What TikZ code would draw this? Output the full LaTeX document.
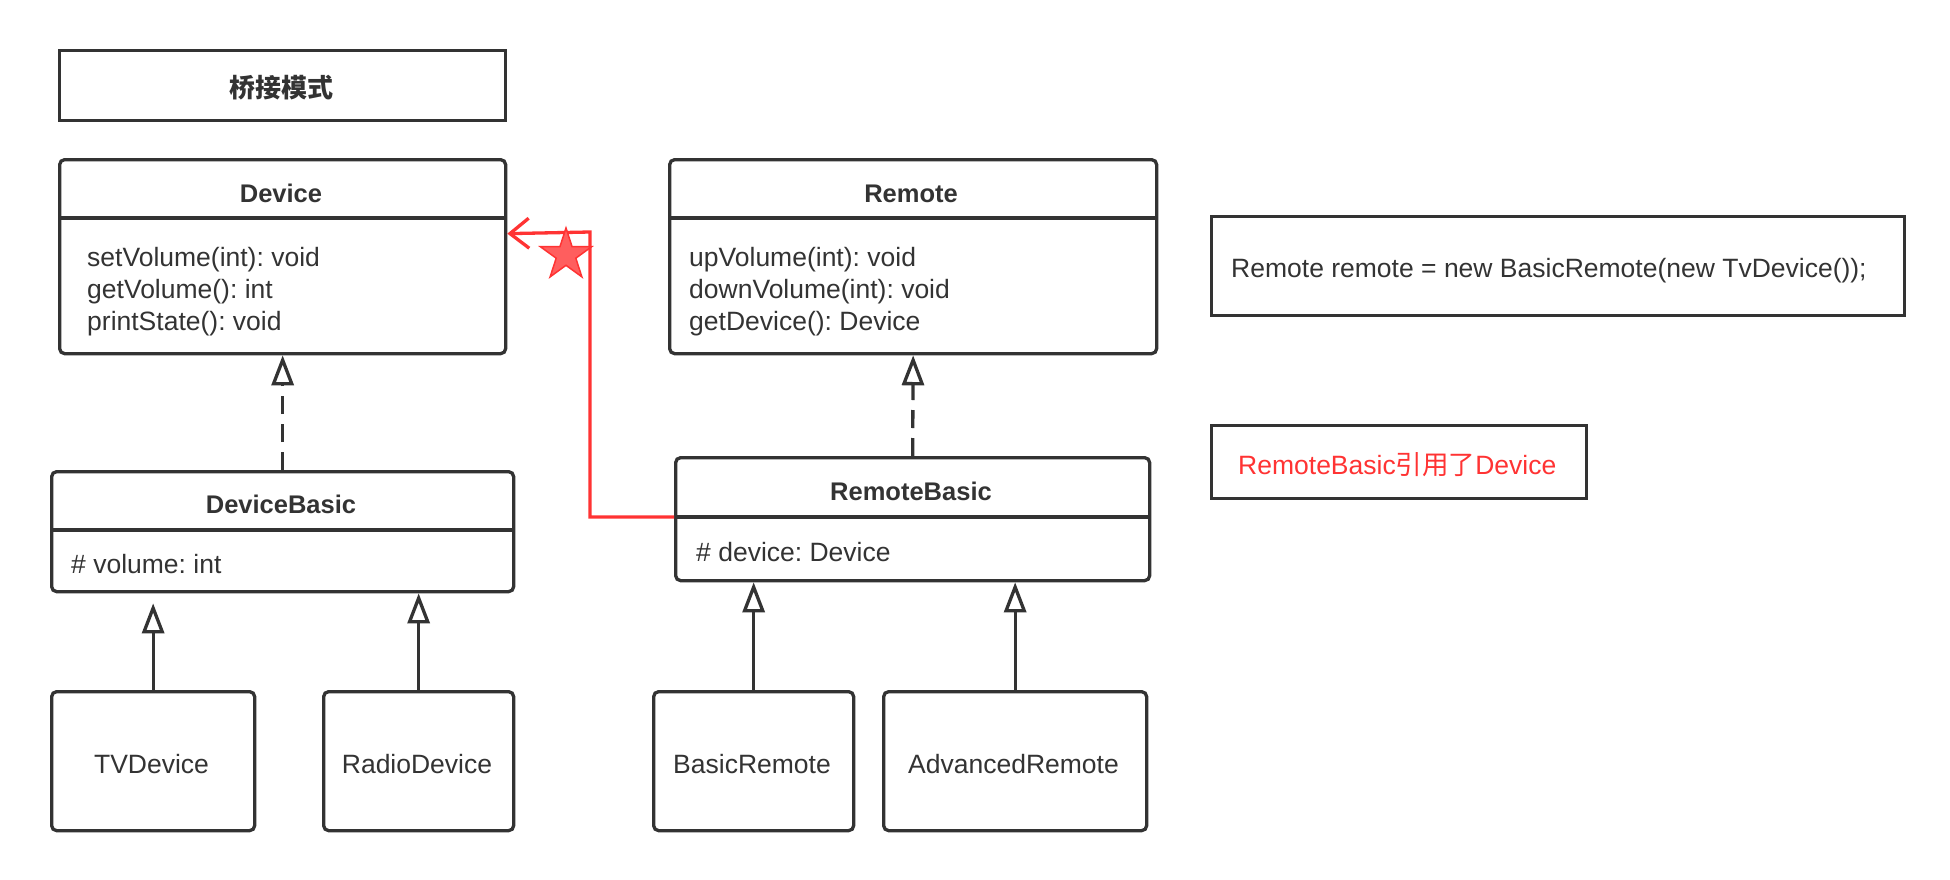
\documentclass[tikz,border=0pt]{standalone}
\usepackage{fontspec}
\setmainfont{Liberation Sans}
\newfontfamily\cjkfont{Noto Sans CJK SC}
\usetikzlibrary{arrows.meta,shapes.geometric}
\definecolor{dk}{HTML}{333333}
\definecolor{rd}{HTML}{FF3333}
\definecolor{rdfill}{HTML}{FF5E5E}
\frenchspacing
\begin{document}
\frenchspacing
\begin{tikzpicture}[x=1pt,y=-1pt,
  box/.style={draw=dk, line width=3.3pt, inner sep=0pt, anchor=north west},
  cls/.style={box, rounded corners=5pt},
  ttl/.style={font=\fontsize{25.5}{30}\selectfont\bfseries, text=dk, anchor=base, inner sep=0pt},
  txt/.style={font=\fontsize{26.5}{32}\selectfont, text=dk, anchor=base west, inner sep=0pt},
  ctxt/.style={txt, anchor=base},
  sep/.style={draw=dk, line width=3.3pt},
  gen/.style={draw=dk, line width=3.3pt, -{Triangle[open, fill=white, length=30pt, width=22pt]}},
  real/.style={gen, dash pattern=on 18pt off 10pt},
  refline/.style={draw=rd, line width=3.3pt, -{Straight Barb[length=19pt, width=30pt]}},
]
\useasboundingbox[fill=white] (0,0) rectangle (1950,880);

% boxes
\node[box, minimum width=446pt, minimum height=70pt] (title) at (58,49) {};
\node[cls, minimum width=446pt, minimum height=194pt] (device) at (58,158) {};
\node[cls, minimum width=487pt, minimum height=194pt] (remote) at (668,158) {};
\node[cls, minimum width=462pt, minimum height=120pt] (db) at (50,470) {};
\node[cls, minimum width=474pt, minimum height=123pt] (rb) at (674,456) {};
\node[cls, minimum width=203pt, minimum height=139pt] (tv) at (50,690) {};
\node[cls, minimum width=190pt, minimum height=139pt] (radio) at (322,690) {};
\node[cls, minimum width=200pt, minimum height=139pt] (br) at (652,690) {};
\node[cls, minimum width=263pt, minimum height=139pt] (ar) at (882,690) {};
\node[box, minimum width=693pt, minimum height=99pt] (code) at (1210,215) {};
\node[box, minimum width=375pt, minimum height=73pt] (note) at (1210,424) {};

% dividers
\draw[sep] ([yshift=-60pt]device.north west) -- ([yshift=-60pt]device.north east);
\draw[sep] ([yshift=-60pt]remote.north west) -- ([yshift=-60pt]remote.north east);
\draw[sep] ([yshift=-60pt]db.north west) -- ([yshift=-60pt]db.north east);
\draw[sep] ([yshift=-61pt]rb.north west) -- ([yshift=-61pt]rb.north east);

% texts
\node[font=\cjkfont\bfseries\fontsize{26}{30}\selectfont, text=dk, inner sep=0pt] (titlet) at (281,88) {桥接模式};
\node[ttl] (devicet) at (281,202) {Device};
\node[txt] (dm1) at (87,266.5) {setVolume(int): void};
\node[txt] (dm2) at (87,298.5) {getVolume(): int};
\node[txt] (dm3) at (87,330.5) {printState(): void};
\node[ttl] (remotet) at (911,202) {Remote};
\node[txt] (rm1) at (689,266.5) {upVolume(int): void};
\node[txt] (rm2) at (689,298.5) {downVolume(int): void};
\node[txt] (rm3) at (689,330.5) {getDevice(): Device};
\node[ttl] (dbt) at (281,513) {DeviceBasic};
\node[txt] (dba) at (71,573.5) {\# volume: int};
\node[ttl] (rbt) at (911,500) {RemoteBasic};
\node[txt] (rba) at (696,561.5) {\# device: Device};
\node[ctxt] (tvt) at (151.5,773.5) {TVDevice};
\node[ctxt] (radiot) at (417,773.5) {RadioDevice};
\node[ctxt] (brt) at (752,773.5) {BasicRemote};
\node[ctxt] (art) at (1013.5,773.5) {AdvancedRemote};
\node[txt] (codet) at (1231,277.5) {Remote remote = new BasicRemote(new TvDevice());};
\node[txt, text=rd] (notet) at (1238,474.5) {RemoteBasic{\cjkfont 引用了}Device};

% connectors
\draw[gen, shorten >=10pt] (tv.north) -- (tv.north |- db.south);
\draw[gen] (radio.north) -- (radio.north |- db.south);
\draw[gen] (br.north) -- (br.north |- rb.south);
\draw[gen] (ar.north) -- (ar.north |- rb.south);
\draw[real] (db.north) -- (device.south);
\draw[real] (rb.north) -- (remote.south);

\coordinate (bend) at (590,232);
\draw[refline] ([yshift=-61pt]rb.north west) -| (bend) -- ([yshift=23pt]device.east);
\node[star, star points=5, star point ratio=2.618, minimum size=54pt, draw=rd, fill=rdfill, line width=1.5pt, inner sep=0pt] (star) at (566,255) {};
\end{tikzpicture}
\end{document}
